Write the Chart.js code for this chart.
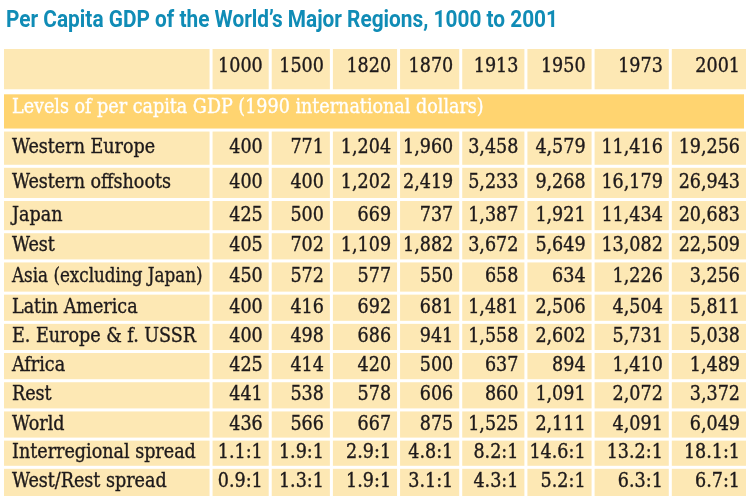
<!DOCTYPE html>
<html>
<head>
<meta charset="utf-8">
<script src="https://cdn.jsdelivr.net/npm/chart.js@4.4.1/dist/chart.umd.min.js"></script>
<style>
  html, body { margin: 0; padding: 0; background: #fff; }
  #wrap { width: 749px; height: 499px; }
</style>
</head>
<body>
<div id="wrap"><canvas id="gdpTable"></canvas></div>
<script>
// --- data (per capita GDP in 1990 international dollars) ---
const chartTitle = 'Per Capita GDP of the World\u2019s Major Regions, 1000 to 2001';
const bannerText = 'Levels of per capita GDP (1990 international dollars)';
const years = ['1000', '1500', '1820', '1870', '1913', '1950', '1973', '2001'];
const regions = ['Western Europe', 'Western offshoots', 'Japan', 'West', 'Asia (excluding Japan)',
  'Latin America', 'E. Europe & f. USSR', 'Africa', 'Rest', 'World'];
const westernEurope    = [400, 771, 1204, 1960, 3458, 4579, 11416, 19256];
const westernOffshoots = [400, 400, 1202, 2419, 5233, 9268, 16179, 26943];
const japan            = [425, 500, 669, 737, 1387, 1921, 11434, 20683];
const west             = [405, 702, 1109, 1882, 3672, 5649, 13082, 22509];
const asiaExJapan      = [450, 572, 577, 550, 658, 634, 1226, 3256];
const latinAmerica     = [400, 416, 692, 681, 1481, 2506, 4504, 5811];
const eEuropeUSSR      = [400, 498, 686, 941, 1558, 2602, 5731, 5038];
const africa           = [425, 414, 420, 500, 637, 894, 1410, 1489];
const rest             = [441, 538, 578, 606, 860, 1091, 2072, 3372];
const world            = [436, 566, 667, 875, 1525, 2111, 4091, 6049];
const regionValues = [westernEurope, westernOffshoots, japan, west, asiaExJapan,
  latinAmerica, eEuropeUSSR, africa, rest, world];
const spreadLabels = ['Interregional spread', 'West/Rest spread'];
const interregionalSpread = [1.1, 1.9, 2.9, 4.8, 8.2, 14.6, 13.2, 18.1];
const westRestSpread      = [0.9, 1.3, 1.9, 3.1, 4.3, 5.2, 6.3, 6.7];

// --- layout (table units, mapped through the chart's linear scales) ---
const colWidths = [205, 56, 58, 64, 59, 62, 64, 74, 74];
const rowHeights = [40, 34, 33, 30, 29, 26, 29, 26, 26, 26, 26, 26, 25, 27];
const GAP = 3;
const CREAM = '#FDE8B4', BANNER = '#FFD470', INK = '#1E1A1B', TITLE = '#108CB6';
const cellFont = '19.5px "DejaVu Serif Condensed", "DejaVu Serif", serif';

const fmt = n => n.toLocaleString('en-US');
const fmtSpread = n => n.toFixed(1) + ':1';

// rows: header, banner, regions, spreads
const rows = [{ kind: 'header', cells: [''].concat(years) }, { kind: 'banner', text: bannerText }];
regions.forEach((r, i) => rows.push({ kind: 'data', cells: [r].concat(regionValues[i].map(fmt)) }));
rows.push({ kind: 'data', cells: [spreadLabels[0]].concat(interregionalSpread.map(fmtSpread)) });
rows.push({ kind: 'data', cells: [spreadLabels[1]].concat(westRestSpread.map(fmtSpread)) });

function edges(sizes, gapFn){
  const out = []; let p = 0;
  sizes.forEach((s, i) => { out.push([p, p + s]); p += s + (i < sizes.length - 1 ? gapFn(i) : 0); });
  return { list: out, total: p };
}
const cols = edges(colWidths, () => GAP);
const rws = edges(rowHeights, i => i === 0 ? 5 : GAP);

function text(ctx, s, px, py, maxW){
  ctx.fillText(s, px, py, maxW);
  ctx.strokeText(s, px, py, maxW); // a touch heavier, like the slab face of the original
}

const tablePlugin = {
  id: 'gdpTable',
  afterDraw(chart){
    const { ctx, scales: { x, y } } = chart;
    ctx.save();
    ctx.font = cellFont;
    ctx.textBaseline = 'alphabetic';
    ctx.lineWidth = 0.35;
    rows.forEach((row, ri) => {
      const [t, b] = rws.list[ri];
      const y0 = y.getPixelForValue(t), y1 = y.getPixelForValue(b);
      const yc = (y0 + y1) / 2;
      if(row.kind === 'banner'){
        const x0 = x.getPixelForValue(0), x1 = x.getPixelForValue(cols.total - 2);
        ctx.fillStyle = BANNER;
        ctx.fillRect(x0, y0, x1 - x0, y1 - y0);
        ctx.fillStyle = ctx.strokeStyle = '#fff';
        ctx.textAlign = 'left';
        text(ctx, row.text, x0 + 8, yc + 2, x1 - x0 - 16);
        return;
      }
      const base = row.kind === 'header' ? yc + 3 : yc + 5;
      row.cells.forEach((txt, ci) => {
        const [l, r] = cols.list[ci];
        const x0 = x.getPixelForValue(l), x1 = x.getPixelForValue(r);
        ctx.fillStyle = CREAM;
        ctx.fillRect(x0, y0, x1 - x0, y1 - y0);
        if(!txt) return;
        ctx.fillStyle = ctx.strokeStyle = INK;
        if(ci === 0){ ctx.textAlign = 'left'; text(ctx, txt, x0 + 8, base, x1 - x0 - 15); }
        else { ctx.textAlign = 'right'; text(ctx, txt, x1 - 6, base, x1 - x0 - 8); }
      });
    });
    // title, squeezed to the width of the original condensed face
    ctx.font = 'bold 23px "Liberation Sans Narrow", "Roboto", "Liberation Sans", sans-serif';
    ctx.fillStyle = TITLE;
    ctx.textAlign = 'left';
    ctx.textBaseline = 'alphabetic';
    const w = ctx.measureText(chartTitle).width;
    const k = Math.min(1, 552 / w);
    ctx.translate(6, 27);
    ctx.scale(k, 1);
    ctx.fillText(chartTitle, 0, 0);
    ctx.restore();
  }
};

new Chart(document.getElementById('gdpTable').getContext('2d'), {
  type: 'scatter',
  data: { datasets: [] },
  options: {
    responsive: true,
    maintainAspectRatio: false,
    animation: false,
    layout: { padding: { left: 4, right: 3, top: 49, bottom: 3 } },
    plugins: { legend: { display: false }, tooltip: { enabled: false } },
    scales: {
      x: { type: 'linear', display: false, min: 0, max: cols.total },
      y: { type: 'linear', display: false, min: 0, max: rws.total, reverse: true }
    }
  },
  plugins: [tablePlugin]
});
</script>
</body>
</html>
